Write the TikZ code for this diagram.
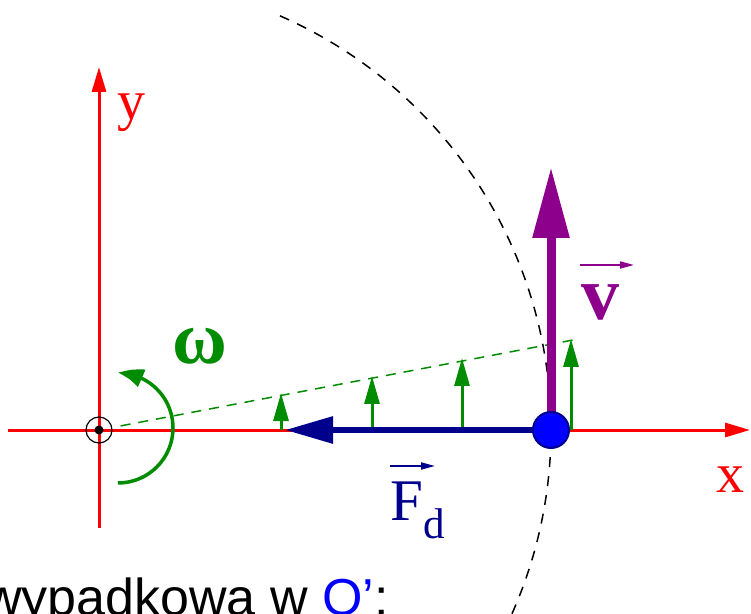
\documentclass[tikz,border=0pt]{standalone}
\usepackage{fontspec}
\setmainfont{Liberation Serif}
\setsansfont{Liberation Sans}
\usetikzlibrary{arrows.meta, positioning, calc, bending}
\definecolor{axisred}{RGB}{255,0,0}
\definecolor{spingreen}{RGB}{0,140,0}
\definecolor{forcenavy}{RGB}{0,0,140}
\definecolor{velopurple}{RGB}{140,0,140}
\definecolor{ballblue}{RGB}{0,0,255}

\begin{document}
\begin{tikzpicture}[x=1pt, y=1pt,
    axisline/.style={draw=axisred, line width=3pt, -{Triangle[length=25pt, width=14pt]}},
    orbit/.style={draw=black, line width=1.5pt, dash pattern=on 10pt off 9pt},
    radial/.style={draw=spingreen, line width=1.5pt, dash pattern=on 10pt off 8pt},
    speed/.style={draw=spingreen, line width=3pt, -{Triangle[length=28pt, width=15pt]}},
    spin/.style={draw=spingreen, line width=3.5pt, -{Triangle[length=25pt, width=18pt, bend]}},
    force/.style={draw=forcenavy, line width=6pt, -{Triangle[length=48pt, width=26pt]}},
    velo/.style={draw=velopurple, line width=9pt, -{Triangle[length=71pt, width=35pt]}},
    vecover/.style={line width=1.8pt, -{Triangle[length=14pt, width=7pt]}},
    ball/.style={circle, fill=ballblue, draw=forcenavy, line width=2pt, minimum size=36pt, inner sep=0pt},
    pivot/.style={circle, draw=black, line width=1.2pt, minimum size=26pt, inner sep=0pt},
    label/.style={inner sep=0pt, font=\fontsize{56}{56}\selectfont}
]
\useasboundingbox (0,0) rectangle (751,613);
\coordinate (O) at (99,183);
\coordinate (P) at (551,183);
\coordinate (xs) at (8,183);
\coordinate (xe) at (750,183);
\coordinate (ys) at (99,85);
\coordinate (ye) at (99,546);
\coordinate (rim) at (573,273);
\coordinate (spinstart) at (118,130);
\coordinate (ftip) at (285,183);
\coordinate (vtip) at (551,446);

\draw[orbit] (O) ++(66.4:452) arc[start angle=66.4, end angle=-25, radius=452];
\draw[axisline] (xs) -- (xe);
\draw[axisline] (ys) -- (ye);
\draw[radial, shorten <=22pt] (O) -- (rim);
\foreach \px/\py in {281/220, 372/237, 462/255, 571/274}
  \draw[speed] (\px,183) -- (\px,\py);
\draw[spin] (spinstart) arc[start angle=-90, end angle=90, radius=55];
\draw[force] (P) -- (ftip);
\draw[velo] (P) -- (vtip);
\node[ball] (mass) at (P) {};
\node[pivot] (axis) at (O) {};
\fill (O) circle (4.5pt);

\node[label, text=axisred] (ylab) at (131,500) {y};
\node[label, text=axisred] (xlab) at (730,133) {x};
\node[label, text=spingreen, font=\fontsize{75}{75}\selectfont\bfseries] (wlab) at (200,267) {ω};
\node[label, text=velopurple, font=\fontsize{76}{76}\selectfont\bfseries] (vlab) at (600,311) {v};
\node[label, text=forcenavy, anchor=base west, font=\fontsize{59}{59}\selectfont] (flab) at (390,93)
  {F\raisebox{-18pt}{\fontsize{43}{43}\selectfont d}};
\draw[vecover, draw=velopurple] ([shift={(-20,37)}]vlab.center) -- ([shift={(34,37)}]vlab.center);
\draw[vecover, draw=forcenavy] ([shift={(0,54)}]flab.base west) -- ([shift={(45,54)}]flab.base west);

\node[inner sep=0pt, anchor=base west, font=\sffamily\fontsize{52}{52}\selectfont] (caption) at (-16,-2)
  {wypadkowa w \textcolor{ballblue}{O’}:};
\end{tikzpicture}
\end{document}
